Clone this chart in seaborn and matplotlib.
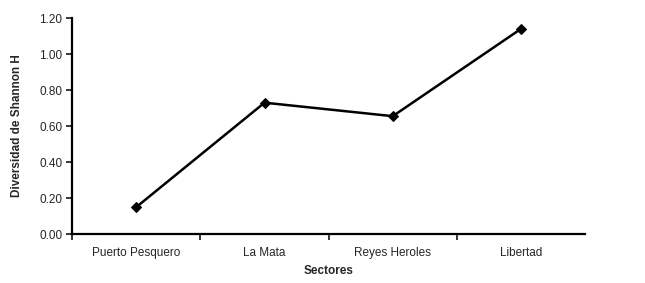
import numpy as np
import pandas as pd
import matplotlib
matplotlib.use('Agg')
import matplotlib.pyplot as plt
import seaborn as sns

# data
sectores = ['Puerto Pesquero', 'La Mata', 'Reyes Heroles', 'Libertad']
shannon_h = [0.15, 0.73, 0.655, 1.14]
y_ticks = [0.0, 0.2, 0.4, 0.6, 0.8, 1.0, 1.2]

df = pd.DataFrame({'pos': np.arange(len(sectores)), 'H': shannon_h})

sns.set_style('ticks')
plt.rcParams['font.family'] = ['Liberation Sans', 'DejaVu Sans']

fig = plt.figure(figsize=(6.45, 2.83), dpi=100)
ax = fig.add_axes([0.112, 0.173, 0.795, 0.763])

sns.lineplot(data=df, x='pos', y='H', ax=ax, color='black', linewidth=1.8,
             marker='D', markersize=5.5, markeredgecolor='black')

ax.set_xlim(-0.5, len(sectores) - 0.5)
ax.set_ylim(0, 1.2)
ax.set_yticks(y_ticks)
ax.set_yticklabels([f'{v:.2f}' for v in y_ticks], fontsize=8.5)

# category labels between boundary tick marks (Excel style)
ax.set_xticks(df['pos'])
ax.set_xticklabels(sectores, fontsize=8.5)
ax.tick_params(axis='x', which='major', length=0, pad=9)
ax.set_xticks(np.arange(-0.5, len(sectores) - 0.5, 1.0), minor=True)
ax.tick_params(axis='x', which='minor', length=4, width=1.3, direction='out')
ax.tick_params(axis='y', length=4, width=1.3, direction='out', pad=3)

ax.set_xlabel('Sectores', fontsize=8.5, fontweight='bold', labelpad=5)
ax.set_ylabel('Diversidad de Shannon H', fontsize=8.5, fontweight='bold', labelpad=12)

for s in ['top', 'right']:
    ax.spines[s].set_visible(False)
for s in ['left', 'bottom']:
    ax.spines[s].set_linewidth(1.6)
    ax.spines[s].set_color('black')

fig.savefig('out.png', dpi=100)
